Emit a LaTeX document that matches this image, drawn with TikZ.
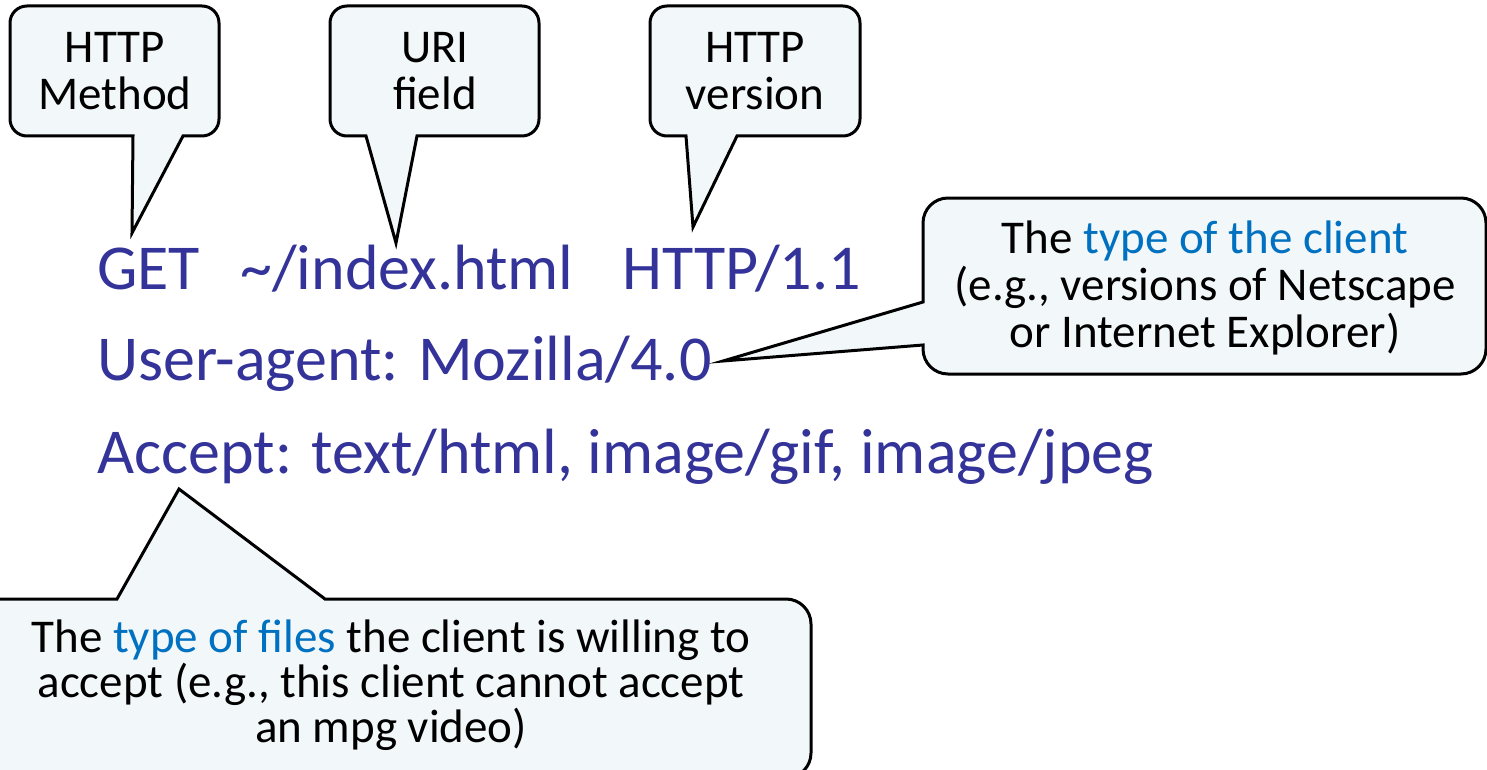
\documentclass[tikz,border=0pt]{standalone}
\usepackage{fontspec}
\setmainfont{Carlito}

\definecolor{reqblue}{RGB}{51,51,153}
\definecolor{hiblue}{RGB}{0,112,192}
\definecolor{bubblefill}{RGB}{242,247,250}

\tikzset{
  bubble/.style={draw=black, fill=bubblefill, line width=3pt, line join=miter},
  note/.style={font=\fontsize{47}{47}\selectfont, align=center, inner sep=0pt, anchor=base},
  req/.style={font=\fontsize{64}{78}\selectfont, text=reqblue, inner sep=0pt, anchor=base west},
}

% rounded box (left, right, top, bottom, pointer base from, pointer base to,
% pointer tip, corner radius) whose pointer leaves the bottom edge
\newcommand\downbubble[8]{%
  \filldraw[bubble] (#5,-#4) -- (#7) -- (#6,-#4)
    -- ({#2-#8},-#4) arc[start angle=-90,end angle=0,radius=#8pt]
    -- (#2,{-#3-#8}) arc[start angle=0,end angle=90,radius=#8pt]
    -- ({#1+#8},-#3) arc[start angle=90,end angle=180,radius=#8pt]
    -- (#1,{-#4+#8}) arc[start angle=180,end angle=270,radius=#8pt]
    -- cycle;}

\begin{document}
\begin{tikzpicture}[x=1pt,y=1pt]
\useasboundingbox (0,0) rectangle (1487,-770);
\clip (0,0) rectangle (1487,-770);

% request lines
\node[req] (get)    at (97,-289)  {GET};
\node[req] (path)   at (240,-289) {\textasciitilde/index.html};
\node[req] (proto)  at (622,-289) {HTTP/1.1};
\node[req] (agent)  at (97,-380)  {User-agent: Mozilla/4.0};
\node[req] (accept) at (97,-473)  {Accept: text/html, image/gif, image/jpeg};

% pointer tips
\coordinate (methodtip)  at (132,-233);
\coordinate (uritip)     at (396,-243);
\coordinate (versiontip) at (693,-227);
\coordinate (clienttip)  at (723,-361);
\coordinate (filestip)   at (179,-489);

% labels above the request line
\downbubble{10}{219}{6}{136}{133}{183}{methodtip}{17}
\downbubble{330}{539}{6}{136}{366}{417}{uritip}{17}
\downbubble{650}{860}{6}{136}{686}{737}{versiontip}{17}

% the base anchor of a multi-line note sits on its last line
\node[note] (method)  at (115,-110) {HTTP\\Method};
\node[note] (uri)     at (435,-110) {URI\\field};
\node[note] (version) at (755,-110) {HTTP\\version};

% client type note, pointer on the left edge
\filldraw[bubble] (923,-302) -- (clienttip) -- (923,-345)
  -- (923,-349) arc[start angle=180,end angle=270,radius=25pt]
  -- (1461,-374) arc[start angle=-90,end angle=0,radius=25pt]
  -- (1486,-223) arc[start angle=0,end angle=90,radius=25pt]
  -- (948,-198) arc[start angle=90,end angle=180,radius=25pt]
  -- cycle;
\node[note] (client) at (1205,-347)
  {The \textcolor{hiblue}{type of the client}\\(e.g., versions of Netscape\\or Internet Explorer)};

% accepted file types note, pointer on the top edge
\filldraw[bubble] (117,-599) -- (filestip) -- (325,-599)
  -- (786,-599) arc[start angle=90,end angle=0,radius=25pt]
  -- (811,-753) arc[start angle=0,end angle=-90,radius=25pt]
  -- (-10,-778) -- (-10,-599) -- cycle;
\node[note, font=\fontsize{47}{45}\selectfont] (files) at (391,-742)
  {The \textcolor{hiblue}{type of files} the client is willing to\\accept (e.g., this client cannot accept\\an mpg video)};
\end{tikzpicture}
\end{document}
